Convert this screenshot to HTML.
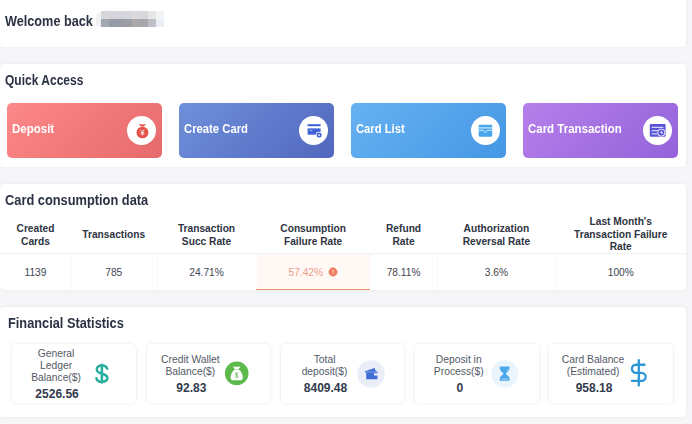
<!DOCTYPE html><html><head><meta charset="utf-8"><style>
*{margin:0;padding:0;box-sizing:border-box}
html,body{width:692px;height:424px;overflow:hidden;background:#f6f6f8;font-family:"Liberation Sans",sans-serif}
.t{position:absolute;white-space:nowrap}
.box{position:absolute;background:#fff;border-radius:4px}
.qa{position:absolute;top:102.5px;width:155px;height:55.5px;border-radius:5px}
.ic{position:absolute;width:29px;height:29px;border-radius:50%;background:#fff;top:116px}
.sb{position:absolute;top:344px;width:123.5px;height:59px;background:#fff;border-radius:4px;box-shadow:0 0 0 0.6px #eceef0,0 0 7px rgba(0,0,0,0.045)}
.cell{position:absolute}
</style></head><body>
<div class="box" style="left:0;top:-10px;width:686px;height:56.5px;box-shadow:0 0 4px rgba(0,0,0,0.055)"></div>
<div class="box" style="left:0;top:64px;width:686px;height:102.5px;box-shadow:0 0 4px rgba(0,0,0,0.055)"></div>
<div class="box" style="left:0;top:184px;width:686px;height:106px;box-shadow:0 0 4px rgba(0,0,0,0.055)"></div>
<div class="box" style="left:0;top:306.5px;width:686px;height:110px;box-shadow:0 0 4px rgba(0,0,0,0.055)"></div>
<div class="t" style="top:12.60px;font-size:13.9px;line-height:16px;color:#2b3243;font-weight:bold;left:4.50px;transform:scaleX(0.912772585669782);transform-origin:0 0;">Welcome back</div>
<div style="position:absolute;left:0;top:0;width:692px;height:40px;filter:blur(0.5px)"><div style="position:absolute;left:95.5px;top:12.5px;width:7px;height:14px;background:#f1f1f3;border-radius:3px 0 0 3px"></div>
<div style="position:absolute;left:101.0px;top:11px;width:8.3px;height:9px;background:#d7d8dc"></div><div style="position:absolute;left:108.8px;top:11px;width:8.3px;height:9px;background:#d5d6db"></div><div style="position:absolute;left:116.6px;top:11px;width:8.3px;height:9px;background:#d5d6db"></div><div style="position:absolute;left:124.4px;top:11px;width:8.3px;height:9px;background:#d6d7dc"></div><div style="position:absolute;left:132.2px;top:11px;width:8.3px;height:9px;background:#dadade"></div><div style="position:absolute;left:140.0px;top:11px;width:8.3px;height:9px;background:#d8d8dc"></div><div style="position:absolute;left:147.8px;top:11px;width:8.3px;height:9px;background:#e6e6e8"></div><div style="position:absolute;left:155.6px;top:11px;width:8.3px;height:9px;background:#f2f3f5"></div><div style="position:absolute;left:101.0px;top:19px;width:8.3px;height:8px;background:#a2a8b2"></div>
<div style="position:absolute;left:108.8px;top:19px;width:8.3px;height:8px;background:#959ca8"></div>
<div style="position:absolute;left:116.6px;top:19px;width:8.3px;height:8px;background:#979ca6"></div>
<div style="position:absolute;left:124.4px;top:19px;width:8.3px;height:8px;background:#9c9ea6"></div>
<div style="position:absolute;left:132.2px;top:19px;width:8.3px;height:8px;background:#aca8aa"></div>
<div style="position:absolute;left:140.0px;top:19px;width:8.3px;height:8px;background:#a6a6ab"></div>
<div style="position:absolute;left:147.8px;top:19px;width:8.3px;height:8px;background:#bcc0c6"></div>
<div style="position:absolute;left:155.6px;top:19px;width:8.3px;height:8px;background:#eaeef5"></div>
</div>
<div class="t" style="top:71.60px;font-size:13.9px;line-height:16px;color:#2b3243;font-weight:bold;left:4.70px;transform:scaleX(0.8649553571428572);transform-origin:0 0;">Quick Access</div>
<div class="qa" style="left:7px;background:linear-gradient(135deg,#fd8889,#e66a6b)"></div>
<div class="t" style="top:122.00px;font-size:12px;line-height:14px;color:#ffffff;font-weight:bold;left:11.60px;transform:scaleX(0.958139534883721);transform-origin:0 0;">Deposit</div>
<div class="ic" style="left:127px"></div>
<div class="qa" style="left:179px;background:linear-gradient(135deg,#6f90da,#5267be)"></div>
<div class="t" style="top:122.00px;font-size:12px;line-height:14px;color:#ffffff;font-weight:bold;left:183.60px;transform:scaleX(0.9402985074626866);transform-origin:0 0;">Create Card</div>
<div class="ic" style="left:299px"></div>
<div class="qa" style="left:351px;background:linear-gradient(135deg,#66b1f1,#4597e5)"></div>
<div class="t" style="top:122.00px;font-size:12px;line-height:14px;color:#ffffff;font-weight:bold;left:355.90px;transform:scaleX(0.9352941176470588);transform-origin:0 0;">Card List</div>
<div class="ic" style="left:471px"></div>
<div class="qa" style="left:523px;background:linear-gradient(135deg,#b67fea,#9463da)"></div>
<div class="t" style="top:122.00px;font-size:12px;line-height:14px;color:#ffffff;font-weight:bold;left:527.90px;transform:scaleX(0.9556701030927836);transform-origin:0 0;">Card Transaction</div>
<div class="ic" style="left:643px"></div>
<svg style="position:absolute;left:127px;top:116px" width="29" height="29" viewBox="0 0 29 29">
<path d="M11.8 8.1 Q15.4 8.9 18.9 8.1 L17 10.6 H13.7 Z" fill="#e4534b"/>
<ellipse cx="15.45" cy="16.5" rx="5.95" ry="5.85" fill="#e4534b"/>
<path d="M13.6 13.6 L15.45 15.8 L17.3 13.6 M15.45 15.8 V19.4 M13.7 16.4 H17.2 M13.7 17.9 H17.2" stroke="#fbe3e1" stroke-width="1" fill="none"/>
</svg>
<svg style="position:absolute;left:299.5px;top:116px" width="29" height="29" viewBox="0 0 29 29">
<rect x="7.6" y="8.2" width="13" height="2" fill="#3e63d8"/>
<path d="M7.6 12.4 H20.6 V18.7 H7.6 Z" fill="#3e63d8"/>
<rect x="9.6" y="14.2" width="2.8" height="0.9" fill="#b3c2f0"/>
<circle cx="19.1" cy="19.1" r="3.4" fill="#fff"/>
<circle cx="19.1" cy="19.1" r="2.5" fill="#3e63d8"/>
<circle cx="19.1" cy="19.1" r="0.9" fill="#fff"/>
</svg>
<svg style="position:absolute;left:471.1px;top:116px" width="29" height="29" viewBox="0 0 29 29">
<rect x="7.7" y="8.7" width="13.5" height="12" rx="1.1" fill="#47a6ec"/>
<rect x="7.7" y="11.2" width="13.5" height="1.4" fill="#b4dcf8"/>
<path d="M7.5 14.3 H11.9 Q12.9 14.3 13.4 15.3 Q13.9 16.5 14.45 16.5 Q15 16.5 15.5 15.3 Q16 14.3 17 14.3 H21.4" stroke="#fff" stroke-width="0.75" fill="none"/>
</svg>
<svg style="position:absolute;left:643px;top:116px" width="29" height="29" viewBox="0 0 29 29">
<rect x="6.8" y="8.1" width="15.8" height="12.6" rx="1" fill="#5a55d6"/>
<rect x="8.6" y="10.8" width="11.8" height="1.1" fill="#e4e3f8"/>
<rect x="8.6" y="14.1" width="6.2" height="1.1" fill="#e4e3f8"/>
<rect x="8.6" y="17.3" width="5.6" height="1.1" fill="#e4e3f8"/>
<circle cx="18.3" cy="16.6" r="3.9" fill="#fff"/>
<circle cx="18.3" cy="16.6" r="3.1" fill="#5a55d6"/>
<path d="M18.1 14.9 V17 H19.9" stroke="#fff" stroke-width="1" fill="none"/>
</svg>
<div class="t" style="top:192.00px;font-size:13.9px;line-height:16px;color:#2b3243;font-weight:bold;left:4.70px;transform:scaleX(0.9228775113415424);transform-origin:0 0;">Card consumption data</div>
<div style="position:absolute;left:0;top:252.6px;width:686px;height:1px;background:#eef0f2"></div>
<div style="position:absolute;left:71px;top:253.6px;width:1px;height:36px;background:#f8f9fa"></div>
<div style="position:absolute;left:156.5px;top:253.6px;width:1px;height:36px;background:#f8f9fa"></div>
<div style="position:absolute;left:256.5px;top:253.6px;width:1px;height:36px;background:#f8f9fa"></div>
<div style="position:absolute;left:369.8px;top:253.6px;width:1px;height:36px;background:#f8f9fa"></div>
<div style="position:absolute;left:437.3px;top:253.6px;width:1px;height:36px;background:#f8f9fa"></div>
<div style="position:absolute;left:555.5px;top:253.6px;width:1px;height:36px;background:#f8f9fa"></div>
<div style="position:absolute;left:256.6px;top:253.6px;width:113.3px;height:36.4px;background:#fff8f5"></div>
<div style="position:absolute;left:256.4px;top:288.5px;width:113.3px;height:1.6px;background:#e8906f"></div>
<div class="t" style="top:223.00px;font-size:10.2px;line-height:11px;color:#2e3441;font-weight:bold;left:-114.50px;width:300px;text-align:center;">Created</div>
<div class="t" style="top:235.50px;font-size:10.2px;line-height:11px;color:#2e3441;font-weight:bold;left:-114.50px;width:300px;text-align:center;">Cards</div>
<div class="t" style="top:228.70px;font-size:10.2px;line-height:11px;color:#2e3441;font-weight:bold;left:-36.25px;width:300px;text-align:center;">Transactions</div>
<div class="t" style="top:223.00px;font-size:10.2px;line-height:11px;color:#2e3441;font-weight:bold;left:56.50px;width:300px;text-align:center;">Transaction</div>
<div class="t" style="top:235.50px;font-size:10.2px;line-height:11px;color:#2e3441;font-weight:bold;left:56.50px;width:300px;text-align:center;">Succ Rate</div>
<div class="t" style="top:223.00px;font-size:10.2px;line-height:11px;color:#2e3441;font-weight:bold;left:163.15px;width:300px;text-align:center;">Consumption</div>
<div class="t" style="top:235.50px;font-size:10.2px;line-height:11px;color:#2e3441;font-weight:bold;left:163.15px;width:300px;text-align:center;">Failure Rate</div>
<div class="t" style="top:223.00px;font-size:10.2px;line-height:11px;color:#2e3441;font-weight:bold;left:253.55px;width:300px;text-align:center;">Refund</div>
<div class="t" style="top:235.50px;font-size:10.2px;line-height:11px;color:#2e3441;font-weight:bold;left:253.55px;width:300px;text-align:center;">Rate</div>
<div class="t" style="top:223.00px;font-size:10.2px;line-height:11px;color:#2e3441;font-weight:bold;left:346.40px;width:300px;text-align:center;">Authorization</div>
<div class="t" style="top:235.50px;font-size:10.2px;line-height:11px;color:#2e3441;font-weight:bold;left:346.40px;width:300px;text-align:center;">Reversal Rate</div>
<div class="t" style="top:216.30px;font-size:10.2px;line-height:11px;color:#2e3441;font-weight:bold;left:470.75px;width:300px;text-align:center;">Last Month's</div>
<div class="t" style="top:228.80px;font-size:10.2px;line-height:11px;color:#2e3441;font-weight:bold;left:470.75px;width:300px;text-align:center;">Transaction Failure</div>
<div class="t" style="top:241.30px;font-size:10.2px;line-height:11px;color:#2e3441;font-weight:bold;left:470.75px;width:300px;text-align:center;">Rate</div>
<div class="t" style="top:267.20px;font-size:10.2px;line-height:11px;color:#41464f;left:-114.50px;width:300px;text-align:center;">1139</div>
<div class="t" style="top:267.20px;font-size:10.2px;line-height:11px;color:#41464f;left:-36.25px;width:300px;text-align:center;">785</div>
<div class="t" style="top:267.20px;font-size:10.2px;line-height:11px;color:#41464f;left:56.50px;width:300px;text-align:center;">24.71%</div>
<div class="t" style="top:267.20px;font-size:10.2px;line-height:11px;color:#41464f;left:253.55px;width:300px;text-align:center;">78.11%</div>
<div class="t" style="top:267.20px;font-size:10.2px;line-height:11px;color:#41464f;left:346.40px;width:300px;text-align:center;">3.6%</div>
<div class="t" style="top:267.20px;font-size:10.2px;line-height:11px;color:#41464f;left:470.75px;width:300px;text-align:center;">100%</div>
<div class="t" style="top:267.30px;font-size:10.2px;line-height:11px;color:#ee9c86;left:288.50px;">57.42%</div>
<svg style="position:absolute;left:328.3px;top:266.7px" width="10" height="10" viewBox="0 0 10 10">
<circle cx="5" cy="5" r="4.4" fill="#ee7b5e"/>
<rect x="4.5" y="2.6" width="1" height="3" fill="#fde8e2"/>
<rect x="4.5" y="6.3" width="1" height="1" fill="#fde8e2"/>
</svg>
<div class="t" style="top:315.00px;font-size:13.9px;line-height:16px;color:#2b3243;font-weight:bold;left:7.60px;transform:scaleX(0.9203187250996016);transform-origin:0 0;">Financial Statistics</div>
<div class="sb" style="left:12.3px"></div>
<div class="sb" style="left:146.6px"></div>
<div class="sb" style="left:280.8px"></div>
<div class="sb" style="left:415px"></div>
<div class="sb" style="left:549.3px"></div>
<div class="t" style="top:348.00px;font-size:10.3px;line-height:11px;color:#535a66;left:-93.95px;width:300px;text-align:center;">General</div>
<div class="t" style="top:360.30px;font-size:10.3px;line-height:11px;color:#535a66;left:-93.95px;width:300px;text-align:center;">Ledger</div>
<div class="t" style="top:372.00px;font-size:10.3px;line-height:11px;color:#535a66;left:-93.95px;width:300px;text-align:center;">Balance($)</div>
<div class="t" style="top:387.00px;font-size:12px;line-height:14px;color:#313a4b;font-weight:bold;left:-92.95px;width:300px;text-align:center;">2526.56</div>
<div class="t" style="top:353.70px;font-size:10.3px;line-height:11px;color:#535a66;left:40.35px;width:300px;text-align:center;">Credit Wallet</div>
<div class="t" style="top:365.80px;font-size:10.3px;line-height:11px;color:#535a66;left:40.35px;width:300px;text-align:center;">Balance($)</div>
<div class="t" style="top:380.60px;font-size:12px;line-height:14px;color:#313a4b;font-weight:bold;left:41.35px;width:300px;text-align:center;">92.83</div>
<div class="t" style="top:353.70px;font-size:10.3px;line-height:11px;color:#535a66;left:174.55px;width:300px;text-align:center;">Total</div>
<div class="t" style="top:365.80px;font-size:10.3px;line-height:11px;color:#535a66;left:174.55px;width:300px;text-align:center;">deposit($)</div>
<div class="t" style="top:380.60px;font-size:12px;line-height:14px;color:#313a4b;font-weight:bold;left:175.55px;width:300px;text-align:center;">8409.48</div>
<div class="t" style="top:353.70px;font-size:10.3px;line-height:11px;color:#535a66;left:308.75px;width:300px;text-align:center;">Deposit in</div>
<div class="t" style="top:365.80px;font-size:10.3px;line-height:11px;color:#535a66;left:308.75px;width:300px;text-align:center;">Process($)</div>
<div class="t" style="top:380.60px;font-size:12px;line-height:14px;color:#313a4b;font-weight:bold;left:309.75px;width:300px;text-align:center;">0</div>
<div class="t" style="top:353.70px;font-size:10.3px;line-height:11px;color:#535a66;left:443.05px;width:300px;text-align:center;">Card Balance</div>
<div class="t" style="top:365.80px;font-size:10.3px;line-height:11px;color:#535a66;left:443.05px;width:300px;text-align:center;">(Estimated)</div>
<div class="t" style="top:380.60px;font-size:12px;line-height:14px;color:#313a4b;font-weight:bold;left:444.05px;width:300px;text-align:center;">958.18</div>
<svg style="position:absolute;left:92px;top:362px" width="20" height="24" viewBox="0 0 20 24">
<path d="M15.2 6.8 C14.6 4.4 12.6 3.4 9.9 3.4 C6.8 3.4 4.8 5.1 4.8 7.4 C4.8 12.6 15.4 10.8 15.4 15.8 C15.4 18.3 13.1 19.8 9.9 19.8 C7 19.8 5 18.5 4.4 16.3" stroke="#2aae9f" stroke-width="2.5" fill="none" stroke-linecap="round"/>
<path d="M9.9 2.8 V20.4" stroke="#2aae9f" stroke-width="2.5" stroke-linecap="round"/>
</svg>
<svg style="position:absolute;left:223.5px;top:360.8px" width="25" height="25" viewBox="0 0 25 25">
<circle cx="12.7" cy="12.3" r="11.8" fill="#5db94b"/>
<path d="M8.9 5.2 Q12.7 6.3 16.5 5.2 L14.6 8.2 H10.8 Z" fill="#fff"/>
<path d="M10.8 8.6 H14.6 C17.2 10.2 18.8 13.6 18.8 16.4 C18.8 18.4 17.8 19.3 15.8 19.3 H9.6 C7.6 19.3 6.6 18.4 6.6 16.4 C6.6 13.6 8.2 10.2 10.8 8.6 Z" fill="#fff"/>
<path d="M14.1 12.7 C13.8 12.2 13.3 12 12.7 12 C11.9 12 11.3 12.4 11.3 13.1 C11.3 14.5 14.1 13.9 14.1 15.4 C14.1 16.1 13.5 16.5 12.7 16.5 C12 16.5 11.4 16.2 11.2 15.6 M12.7 11.2 V17.2" stroke="#5db94b" stroke-width="0.75" fill="none"/>
</svg>
<svg style="position:absolute;left:357px;top:359.6px" width="28" height="28" viewBox="0 0 28 28">
<circle cx="14" cy="14" r="13.8" fill="#e9eef9"/>
<path d="M7.4 11.6 L17.4 7.9 L18.6 10.3 V12.4 H9.2 Z" fill="#3f6fd6"/>
<path d="M8.2 11.3 H20.8 V12.5 H8.2 Z" fill="#6d91e3"/>
<path d="M9.2 12.5 H20.4 V13.3 H17 V15.6 H20.4 V19.2 H9.2 Z" fill="#3f6fd6"/>
</svg>
<svg style="position:absolute;left:491.3px;top:359.5px" width="27.5" height="27.5" viewBox="0 0 27.5 27.5">
<circle cx="13.75" cy="13.75" r="13.6" fill="#eaf4fc"/>
<path d="M8.8 6.4 H18.5 V8.4 C18.5 10.6 15.6 12.4 14.8 13.7 C15.6 15 18.5 16.2 18.5 18.2 V20.7 H8.8 V18.2 C8.8 16.2 11.7 15 12.5 13.7 C11.7 12.4 8.8 10.6 8.8 8.4 Z" fill="#4aa8e8"/>
<rect x="10.4" y="18.6" width="6.6" height="0.8" fill="#c9e6fa"/>
<path d="M17 8.6 C17 9.8 16.4 10.6 15.6 11.2" stroke="#bfe0f8" stroke-width="0.6" fill="none"/>
</svg>
<svg style="position:absolute;left:625.1px;top:359.45px" width="27.6" height="27.6" viewBox="0 0 24 24">
<path d="M12 1 V23 M17 5 H9.5 A3.5 3.5 0 0 0 9.5 12 H14.5 A3.5 3.5 0 0 1 14.5 19 H6" stroke="#2b97d8" stroke-width="2" fill="none" stroke-linecap="round" stroke-linejoin="round"/>
</svg>
</body></html>
